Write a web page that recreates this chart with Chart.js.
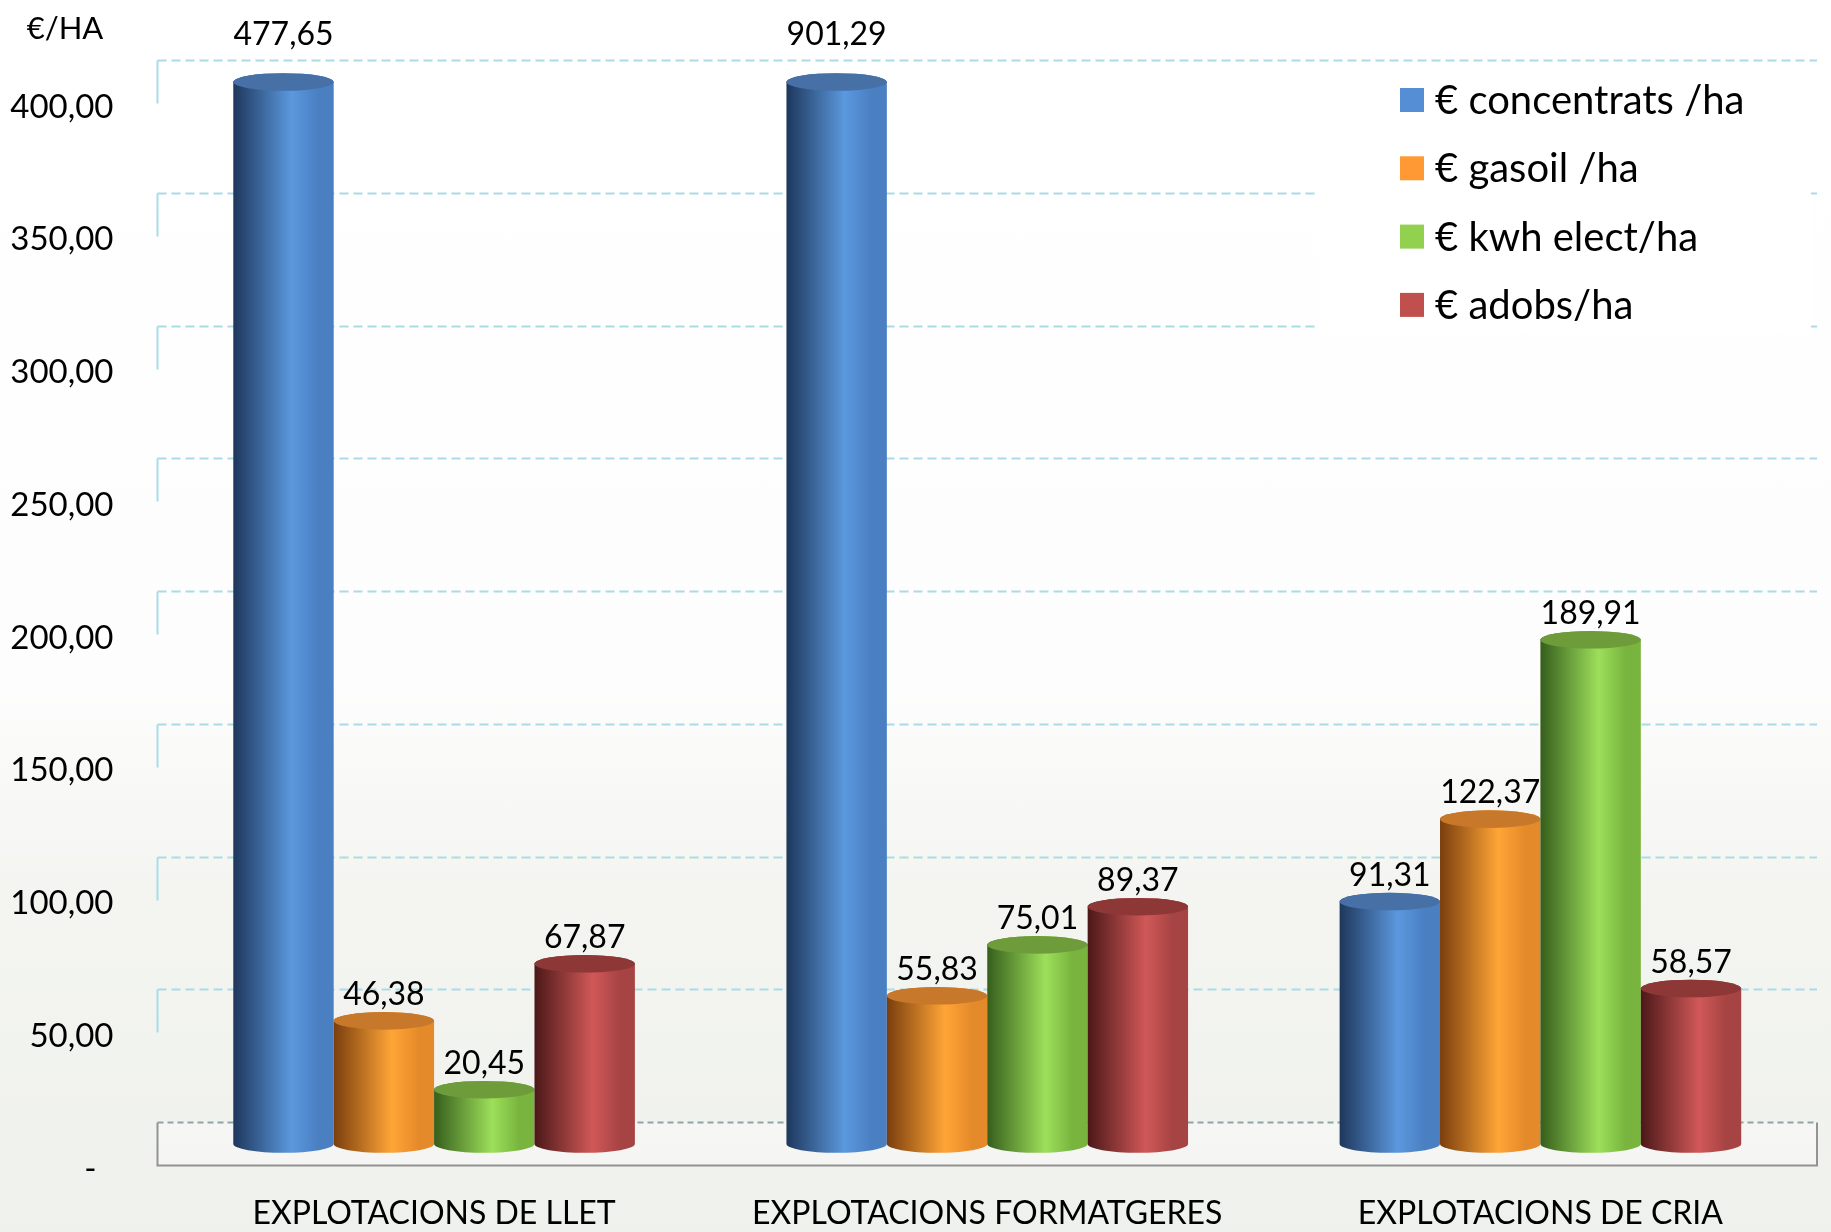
<!DOCTYPE html>
<html lang="ca">
<head>
  <meta charset="UTF-8">
  <title>Costos per hectàrea</title>
  <script src="https://cdn.jsdelivr.net/npm/chart.js"></script>
  <style>
    html, body {
      margin: 0;
      padding: 0;
    }
    body {
      width: 1831px;
      height: 1232px;
      background: linear-gradient(#ffffff 0%, #fdfdfd 55%, #f4f5f1 72%, #eff1ec 100%);
      font-family: Lato, sans-serif;
    }
    .chart-wrap {
      position: relative;
      width: 1831px;
      height: 1232px;
    }
  </style>
</head>
<body>
  <div class="chart-wrap">
    <canvas id="costChart"></canvas>
  </div>

  <script>
    // dades (€/ha)
    const categories = ['EXPLOTACIONS DE LLET', 'EXPLOTACIONS FORMATGERES', 'EXPLOTACIONS DE CRIA'];
    const seriesNames = ['€ concentrats /ha', '€ gasoil /ha', '€ kwh elect/ha', '€ adobs/ha'];
    const concentrats = [477.65, 901.29, 91.31];
    const gasoil = [46.38, 55.83, 122.37];
    const electricitat = [20.45, 75.01, 189.91];
    const adobs = [67.87, 89.37, 58.57];
    const yMax = 400;
    const yStep = 50;
    const yTitle = '€/HA';

    // colors de cada cilindre: costat fosc, llum, vora dreta, tapa, quadre de llegenda
    const palettes = [
      { dark: '#1e375c', light: '#5b98de', edge: '#4a7fc2', top: '#4670a6', swatch: '#558ed5' },
      { dark: '#7a3e0e', light: '#ffa536', edge: '#e58a2a', top: '#c7782b', swatch: '#ff9933' },
      { dark: '#365e1c', light: '#9ddf5a', edge: '#78b43e', top: '#6e9c3b', swatch: '#92d050' },
      { dark: '#4c1818', light: '#d15858', edge: '#a64343', top: '#8d3737', swatch: '#c0504d' }
    ];

    const BACK = 22;   // desplaçament de la paret del fons
    const FRONT = 21;  // desplaçament del caire davanter del terra
    const RY = 8.8;    // semieix vertical de les el·lipses

    function fmt(v) {
      return v.toFixed(2).replace('.', ',');
    }

    function drawCylinder(ctx, x, top, base, w, pal) {
      const rx = w / 2;
      const l = x - rx, r = x + rx;
      const g = ctx.createLinearGradient(l, 0, r, 0);
      g.addColorStop(0, pal.dark);
      g.addColorStop(0.58, pal.light);
      g.addColorStop(0.85, pal.edge);
      g.addColorStop(1, pal.edge);
      ctx.fillStyle = g;
      ctx.beginPath();
      ctx.moveTo(l, top);
      ctx.lineTo(l, base);
      ctx.ellipse(x, base, rx, RY, 0, Math.PI, 0, true);
      ctx.lineTo(r, top);
      ctx.ellipse(x, top, rx, RY, 0, 0, Math.PI, true);
      ctx.closePath();
      ctx.fill();

      ctx.fillStyle = pal.top;
      ctx.beginPath();
      ctx.ellipse(x, top, rx, RY, 0, 0, Math.PI * 2);
      ctx.fill();
    }

    const wallPlugin = {
      id: 'wall',
      beforeDatasetsDraw(chart) {
        const { ctx, chartArea: a, scales: { y } } = chart;
        const zero = y.getPixelForValue(0);
        ctx.save();
        ctx.lineWidth = 2;

        // graella de la paret del fons i de la paret esquerra
        y.ticks.forEach(t => {
          if (t.value === 0) return;
          const py = Math.round(y.getPixelForValue(t.value) - BACK) + 0.5;
          ctx.strokeStyle = '#a9dce8';
          ctx.setLineDash([9, 5]);
          ctx.beginPath();
          ctx.moveTo(a.left, py);
          ctx.lineTo(a.right, py);
          ctx.stroke();
          ctx.setLineDash([]);
          ctx.beginPath();
          ctx.moveTo(a.left, py);
          ctx.lineTo(a.left, py + BACK + FRONT);
          ctx.stroke();
        });

        // terra
        const fb = Math.round(zero - BACK) + 0.5;
        const ff = Math.round(zero + FRONT) + 0.5;
        ctx.fillStyle = 'rgba(255,255,255,0.35)';
        ctx.fillRect(a.left, fb, a.right - a.left, ff - fb);
        ctx.strokeStyle = '#8fa3aa';
        ctx.setLineDash([6, 4]);
        ctx.beginPath();
        ctx.moveTo(a.left, fb);
        ctx.lineTo(a.right, fb);
        ctx.stroke();
        ctx.setLineDash([]);
        ctx.strokeStyle = '#939393';
        ctx.beginPath();
        ctx.moveTo(a.left, fb);
        ctx.lineTo(a.left, ff);
        ctx.lineTo(a.right, ff);
        ctx.lineTo(a.right, fb);
        ctx.stroke();

        // llegenda
        const bx = a.right - 498;
        ctx.fillStyle = '#ffffff';
        ctx.fillRect(bx, 70, 492, 264);
        ctx.font = '40px Lato';
        ctx.textBaseline = 'middle';
        ctx.textAlign = 'left';
        chart.data.datasets.forEach((ds, i) => {
          const cy = 100 + i * 68.3;
          ctx.fillStyle = palettes[i].swatch;
          ctx.fillRect(bx + 81, cy - 12, 24, 24);
          ctx.fillStyle = '#000';
          ctx.fillText(ds.label, bx + 116, cy + 1);
        });
        ctx.restore();
      },
      afterDatasetsDraw(chart) {
        const { ctx, chartArea: a } = chart;
        ctx.save();
        chart.data.datasets.forEach((ds, i) => {
          const meta = chart.getDatasetMeta(i);
          meta.data.forEach((bar, j) => {
            const p = bar.getProps(['x', 'y', 'base', 'width'], true);
            const top = Math.max(p.y, a.top);
            drawCylinder(ctx, p.x, top, p.base, p.width, palettes[i]);
          });
        });

        // etiquetes de valor
        ctx.font = '32px Lato';
        ctx.fillStyle = '#000';
        ctx.textAlign = 'center';
        ctx.textBaseline = 'middle';
        chart.data.datasets.forEach((ds, i) => {
          const meta = chart.getDatasetMeta(i);
          meta.data.forEach((bar, j) => {
            const p = bar.getProps(['x', 'y'], true);
            const clipped = p.y < a.top;
            const ly = clipped ? a.top - 47 : p.y - 26;
            ctx.fillText(fmt(ds.data[j]), p.x, ly);
          });
        });

        ctx.font = '31px Lato';
        ctx.fillText(yTitle, 65, 29);
        ctx.restore();
      }
    };

    const ctx = document.getElementById('costChart').getContext('2d');
    const seriesData = [concentrats, gasoil, electricitat, adobs];

    new Chart(ctx, {
      type: 'bar',
      data: {
        labels: categories,
        datasets: seriesNames.map((name, i) => ({
          label: name,
          data: seriesData[i],
          backgroundColor: 'rgba(0,0,0,0)',
          borderWidth: 0
        }))
      },
      options: {
        responsive: true,
        maintainAspectRatio: false,
        animation: false,
        devicePixelRatio: 1,
        categoryPercentage: 0.726,
        barPercentage: 1.0,
        layout: {
          padding: { top: 82, right: 14, left: 0, bottom: 0 }
        },
        plugins: {
          legend: { display: false },
          tooltip: { enabled: false }
        },
        scales: {
          x: {
            grid: { display: false, drawTicks: false },
            border: { display: false },
            ticks: {
              color: '#000',
              font: { family: 'Lato', size: 32 },
              padding: 50,
              maxRotation: 0
            },
            afterFit(s) { s.height = 88; }
          },
          y: {
            min: 0,
            max: yMax,
            grid: { display: false, drawTicks: false },
            border: { display: false },
            ticks: {
              stepSize: yStep,
              color: '#000',
              font: { family: 'Lato', size: 33 },
              padding: 44,
              labelOffset: FRONT + 4,
              callback: v => (v === 0 ? '-  ' : fmt(v))
            },
            afterFit(s) { s.width = 157.5; }
          }
        }
      },
      plugins: [wallPlugin]
    });
  </script>
</body>
</html>
